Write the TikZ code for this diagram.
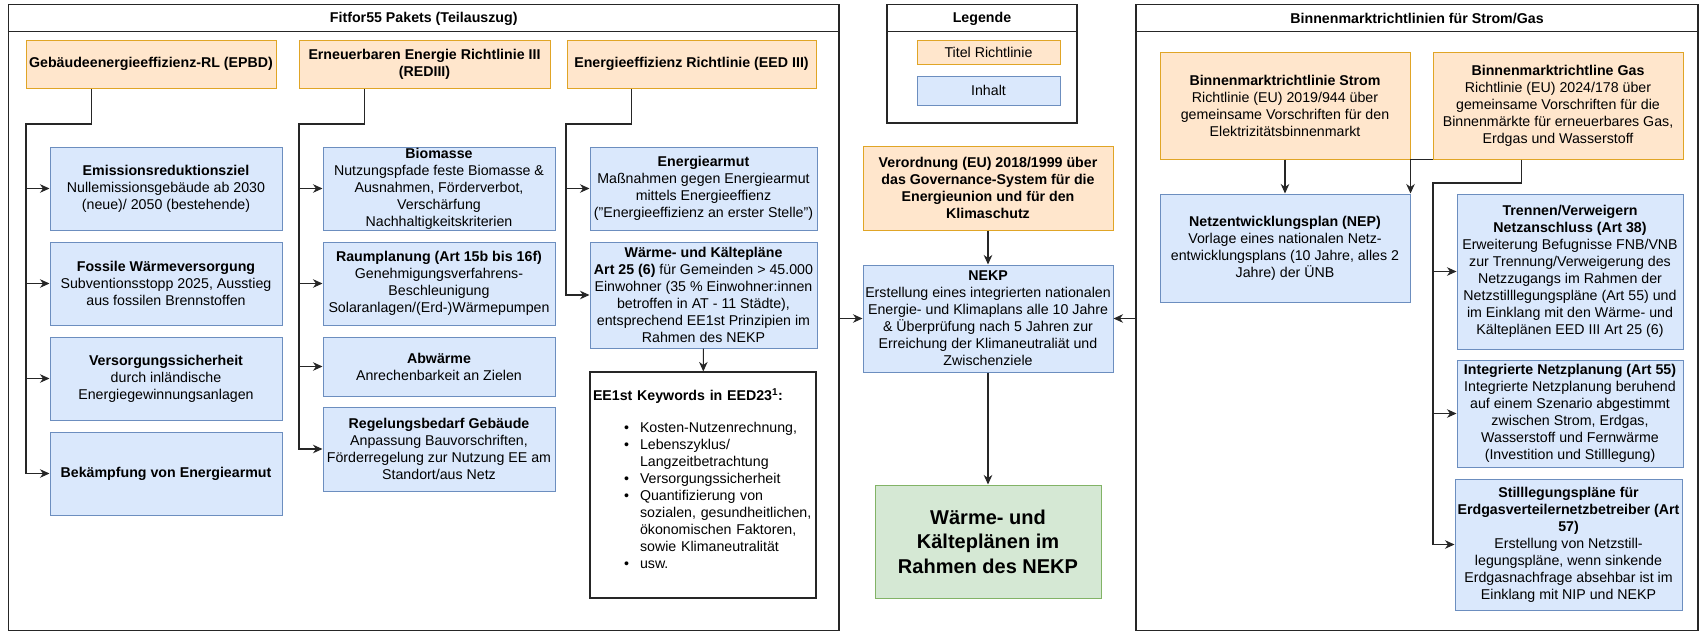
\documentclass[tikz,border=0pt]{standalone}
\usepackage{fontspec}
\setmainfont{Liberation Sans}
\usetikzlibrary{arrows.meta}
\definecolor{titelfill}{HTML}{FFE6CC}
\definecolor{titelrand}{HTML}{E0A526}
\definecolor{inhaltfill}{HTML}{DAE8FC}
\definecolor{inhaltrand}{HTML}{6C8EBF}
\definecolor{gruenfill}{HTML}{D5E8D4}
\definecolor{gruenrand}{HTML}{82B366}

\begin{document}
\begin{tikzpicture}[x=1pt,y=-1pt,
		schrift/.style={font=\fontsize{14.2}{17}\selectfont},
		titel/.style={schrift,draw=titelrand,fill=titelfill,line width=1pt,align=center,inner sep=1pt},
		inhalt/.style={schrift,draw=inhaltrand,fill=inhaltfill,line width=1pt,align=center,inner sep=1pt},
		rahmen/.style={draw=black!85,line width=1.2pt,inner sep=0pt},
		linie/.style={draw=black!85,line width=1.1pt},
		pfeil/.style={linie,-{Stealth[length=9.5pt,width=8.5pt,inset=3pt]}}]
		\fill[white] (0,0) rectangle (1702,632);
		\useasboundingbox (0,0) rectangle (1702,632);
		% drei Rahmen mit Kopfzeile
		\node[rahmen,minimum width=830.5,minimum height=626] (fitfor) at (423.75,317.5) {};
		\draw[rahmen] ([yshift=-27.5pt]fitfor.north west) -- ([yshift=-27.5pt]fitfor.north east);
		\node[schrift] (fitfortitel) at (423.75,18.5) {\textbf{Fitfor55 Pakets (Teilauszug)}};
		\node[rahmen,minimum width=190,minimum height=118.5] (legende) at (982,63.75) {};
		\draw[rahmen] ([yshift=-27.5pt]legende.north west) -- ([yshift=-27.5pt]legende.north east);
		\node[schrift] (legendetitel) at (982,18.5) {\textbf{Legende}};
		\node[rahmen,minimum width=562,minimum height=626] (binnen) at (1417,317.5) {};
		\draw[rahmen] ([yshift=-27.5pt]binnen.north west) -- ([yshift=-27.5pt]binnen.north east);
		\node[schrift] (binnentitel) at (1417,18.5) {\textbf{Binnenmarktrichtlinien für Strom/Gas}};
		% Legende
		\node[titel,minimum width=143,minimum height=24] (legtitel) at (988.5,52) {Titel Richtlinie};
		\node[inhalt,minimum width=143,minimum height=29] (leginhalt) at (988.5,90.5) {Inhalt};
		% Fitfor55: Richtlinien
		\node[titel,minimum width=250,minimum height=48] (epbd) at (151,64) {\textbf{Gebäudeenergieeffizienz-RL (EPBD)}};
		\node[titel,minimum width=251,minimum height=48] (red) at (424.5,64) {\textbf{Erneuerbaren Energie Richtlinie III}\\\textbf{(REDIII)}};
		\node[titel,minimum width=249,minimum height=48] (eed) at (691.5,64) {\textbf{Energieeffizienz Richtlinie (EED III)}};
		% EPBD
		\node[inhalt,minimum width=232,minimum height=83] (emis) at (166,188.5) {\textbf{Emissionsreduktionsziel}\\Nullemissionsgebäude ab 2030\\(neue)/ 2050 (bestehende)};
		\node[inhalt,minimum width=232,minimum height=83] (fossil) at (166,283.5) {\textbf{Fossile Wärmeversorgung}\\Subventionsstopp 2025, Ausstieg\\aus fossilen Brennstoffen};
		\node[inhalt,minimum width=232,minimum height=83] (versorg) at (166,378.5) {\textbf{Versorgungssicherheit}\\durch inländische\\Energiegewinnungsanlagen};
		\node[inhalt,minimum width=232,minimum height=83] (armut) at (166,473.5) {\textbf{Bekämpfung von Energiearmut}};
		% REDIII
		\node[inhalt,inner ysep=0pt,minimum width=232,minimum height=83] (biomasse) at (439,188.5) {\textbf{Biomasse}\\Nutzungspfade feste Biomasse \&\\Ausnahmen, Förderverbot,\\Verschärfung\\Nachhaltigkeitskriterien};
		\node[inhalt,minimum width=232,minimum height=83] (raum) at (439,283.5) {\textbf{Raumplanung (Art 15b bis 16f)}\\Genehmigungsverfahrens-\\Beschleunigung\\Solaranlagen/(Erd-)Wärmepumpen};
		\node[inhalt,minimum width=232,minimum height=59] (abwaerme) at (439,366.5) {\textbf{Abwärme}\\Anrechenbarkeit an Zielen};
		\node[inhalt,minimum width=232,minimum height=84] (regel) at (439,449) {\textbf{Regelungsbedarf Gebäude}\\Anpassung Bauvorschriften,\\Förderregelung zur Nutzung EE am\\Standort/aus Netz};
		% EED III
		\node[inhalt,minimum width=227,minimum height=83] (earmut) at (703.5,188.5) {\textbf{Energiearmut}\\Maßnahmen gegen Energiearmut\\mittels Energieeffienz\\("Energieeffizienz an erster Stelle")};
		\node[inhalt,minimum width=227,minimum height=106] (waerme) at (703.5,295) {\textbf{Wärme- und Kältepläne}\\\textbf{Art 25 (6)} für Gemeinden > 45.000\\Einwohner (35 \% Einwohner:innen\\betroffen in AT - 11 Städte),\\entsprechend EE1st Prinzipien im\\Rahmen des NEKP};
		\node[schrift,draw=black!85,line width=1.1pt,fill=white,text width=220pt,align=left,inner sep=3pt,minimum height=226] (keywords) at (703,485) {\textbf{EE1st Keywords in EED23\textsuperscript{1}:}
			\begin{list}{\textbullet}{\setlength{\leftmargin}{47pt}\setlength{\labelwidth}{30pt}\setlength{\labelsep}{11pt}%
					\setlength{\itemsep}{0pt}\setlength{\parsep}{0pt}\setlength{\topsep}{15pt}\setlength{\partopsep}{0pt}}
				\item Kosten-Nutzenrechnung,
				\item Lebenszyklus/\newline Langzeitbetrachtung
				\item Versorgungssicherheit
				\item Quantifizierung von\newline sozialen, gesundheitlichen,\newline ökonomischen Faktoren,\newline sowie Klimaneutralität
				\item usw.
			\end{list}\kern-3pt\hrule height 0pt};
		% Mitte
		\node[titel,minimum width=250,minimum height=84] (verord) at (988,188) {\textbf{Verordnung (EU) 2018/1999 über}\\\textbf{das Governance-System für die}\\\textbf{Energieunion und für den}\\\textbf{Klimaschutz}};
		\node[inhalt,minimum width=250,minimum height=107] (nekp) at (988,318.5) {\textbf{NEKP}\\Erstellung eines integrierten nationalen\\Energie- und Klimaplans alle 10 Jahre\\\& Überprüfung nach 5 Jahren zur\\Erreichung der Klimaneutraliät und\\Zwischenziele};
		\node[draw=gruenrand,fill=gruenfill,line width=1pt,align=center,font=\fontsize{20}{24.5}\selectfont\bfseries,minimum width=226,minimum height=113] (ziel) at (988,541.5) {Wärme- und\\Kälteplänen im\\Rahmen des NEKP};
		% Binnenmarkt
		\node[titel,minimum width=250,minimum height=107] (strom) at (1285,105.5) {\textbf{Binnenmarktrichtlinie Strom}\\Richtlinie (EU) 2019/944 über\\gemeinsame Vorschriften für den\\Elektrizitätsbinnenmarkt};
		\node[titel,minimum width=250,minimum height=107] (gas) at (1558,105.5) {\textbf{Binnenmarktrichtline Gas}\\Richtlinie (EU) 2024/178 über\\gemeinsame Vorschriften für die\\Binnenmärkte für erneuerbares Gas,\\Erdgas und Wasserstoff};
		\node[inhalt,minimum width=250,minimum height=108] (nep) at (1285,248) {\textbf{Netzentwicklungsplan (NEP)}\\Vorlage eines nationalen Netz-\\entwicklungsplans (10 Jahre, alles 2\\Jahre) der ÜNB};
		\node[inhalt,minimum width=226,minimum height=155] (trennen) at (1570,271.5) {\textbf{Trennen/Verweigern}\\\textbf{Netzanschluss (Art 38)}\\Erweiterung Befugnisse FNB/VNB\\zur Trennung/Verweigerung des\\Netzzugangs im Rahmen der\\Netzstilllegungspläne (Art 55) und\\im Einklang mit den Wärme- und\\Kälteplänen EED III Art 25 (6)};
		\node[inhalt,minimum width=226,minimum height=107] (integriert) at (1570,413.5) {\textbf{Integrierte Netzplanung (Art 55)}\\Integrierte Netzplanung beruhend\\auf einem Szenario abgestimmt\\zwischen Strom, Erdgas,\\Wasserstoff und Fernwärme\\(Investition und Stilllegung)};
		\node[inhalt,minimum width=227,minimum height=131] (stilllegung) at (1568.5,544.5) {\textbf{Stilllegungspläne für}\\\textbf{Erdgasverteilernetzbetreiber (Art}\\\textbf{57)}\\Erstellung von Netzstill-\\legungspläne, wenn sinkende\\Erdgasnachfrage absehbar ist im\\Einklang mit NIP und NEKP};
		% Verbindungen
		\coordinate (epbdbus) at (26,124);
		\coordinate (redbus) at (299,124);
		\coordinate (eedbus) at (566,124);
		\coordinate (gasbus) at (1433,183);
		\draw[pfeil] ([xshift=66pt]epbd.south west) |- (epbdbus) |- (armut.west);
		\draw[pfeil] (epbdbus |- emis.west) -- (emis.west);
		\draw[pfeil] (epbdbus |- fossil.west) -- (fossil.west);
		\draw[pfeil] (epbdbus |- versorg.west) -- (versorg.west);
		\draw[pfeil] ([xshift=66pt]red.south west) |- (redbus) |- (regel.west);
		\draw[pfeil] (redbus |- biomasse.west) -- (biomasse.west);
		\draw[pfeil] (redbus |- raum.west) -- (raum.west);
		\draw[pfeil] (redbus |- abwaerme.west) -- (abwaerme.west);
		\draw[pfeil] ([xshift=65pt]eed.south west) |- (eedbus) |- (waerme.west);
		\draw[pfeil] (eedbus |- earmut.west) -- (earmut.west);
		\draw[pfeil] (waerme) -- (keywords);
		\draw[pfeil] (fitfor.east |- nekp.west) -- (nekp.west);
		\draw[pfeil] (binnen.west |- nekp.east) -- (nekp.east);
		\draw[pfeil] (verord) -- (nekp);
		\draw[pfeil] (nekp) -- (ziel);
		\draw[pfeil] (strom) -- (nep);
		\draw[pfeil] (gas.south west) -| (nep.north east);
		\draw[pfeil] ([xshift=89pt]gas.south west) |- (gasbus) |- (stilllegung.west);
		\draw[pfeil] (gasbus |- trennen.west) -- (trennen.west);
		\draw[pfeil] (gasbus |- integriert.west) -- (integriert.west);
\end{tikzpicture}
\end{document}
